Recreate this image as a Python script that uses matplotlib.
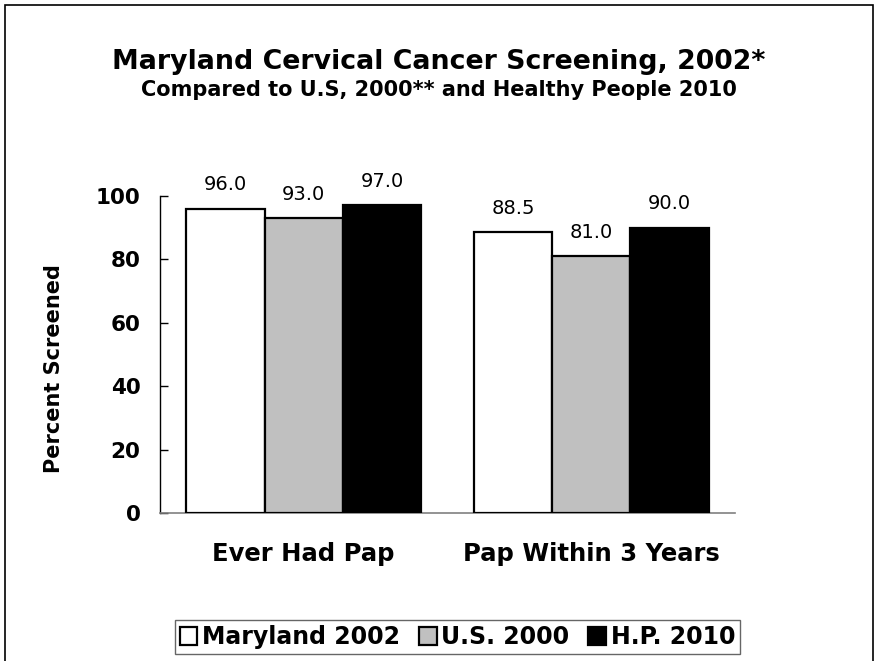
import matplotlib
matplotlib.use('Agg')
import matplotlib.pyplot as plt
from matplotlib.patches import Rectangle
import numpy as np

# chart data
categories = ['Ever Had Pap', 'Pap Within 3 Years']
series_names = ['Maryland 2002', 'U.S. 2000', 'H.P. 2010']
maryland_2002 = [96.0, 88.5]
us_2000 = [93.0, 81.0]
hp_2010 = [97.0, 90.0]
y_ticks = [0, 20, 40, 60, 80, 100]

plt.rcParams['font.family'] = ['DejaVu Sans']

fig = plt.figure(figsize=(8.78, 6.61), dpi=100)
ax = fig.add_axes([0.1822, 0.2239, 0.6549, 0.4796])

colors = ['white', '#C0C0C0', 'black']
all_series = [maryland_2002, us_2000, hp_2010]
x = np.arange(len(categories))
width = 0.272

for i, (name, vals, col) in enumerate(zip(series_names, all_series, colors)):
    pos = x + (i - 1) * width
    ax.bar(pos, vals, width, color=col, edgecolor='black', linewidth=1.6,
           label=name, zorder=3)
    for px, v in zip(pos, vals):
        ax.annotate(f"{v:.1f}", (px, v), xytext=(0, 10.5), textcoords='offset points',
                    ha='center', va='bottom', fontsize=14)

ax.set_xlim(-0.5, 1.5)
ax.set_ylim(0, 100)
ax.set_yticks(y_ticks)
ax.set_yticklabels([str(t) for t in y_ticks], fontsize=15.5, fontweight='bold')
ax.tick_params(axis='y', direction='in', length=6, width=1, pad=14)
ax.set_xticks(x)
ax.set_xticklabels(categories, fontsize=17.5, fontweight='bold')
ax.tick_params(axis='x', length=0, pad=21)

for side in ['top', 'right']:
    ax.spines[side].set_visible(False)
ax.spines['left'].set_color('black')
ax.spines['left'].set_linewidth(1)
ax.spines['bottom'].set_color('#808080')
ax.spines['bottom'].set_linewidth(1.2)

fig.text(0.0615, 0.443, 'Percent Screened', rotation=90, ha='center', va='center',
         fontsize=15, fontweight='bold')

fig.text(0.5, 0.906, 'Maryland Cervical Cancer Screening, 2002*', ha='center', va='center',
         fontsize=19.3, fontweight='bold')
fig.text(0.5, 0.864, 'Compared to U.S, 2000** and Healthy People 2010', ha='center', va='center',
         fontsize=15, fontweight='bold')

leg = fig.legend(loc='center', bbox_to_anchor=(0.521, 0.036), ncol=3, frameon=True,
                 fancybox=False, shadow=False, handlelength=0.75, handleheight=0.75,
                 handletextpad=0.2, columnspacing=0.8, borderpad=0.2,
                 prop={'size': 17, 'weight': 'bold'})
leg.get_frame().set_edgecolor('#404040')
leg.get_frame().set_linewidth(1)

# outer frame around the chart
fig.patches.append(Rectangle((5 / 878, -0.05), 868 / 878, 1.05 - 5 / 661,
                             transform=fig.transFigure, fill=False,
                             edgecolor='black', linewidth=1.2))

fig.savefig('out.png', dpi=100)
